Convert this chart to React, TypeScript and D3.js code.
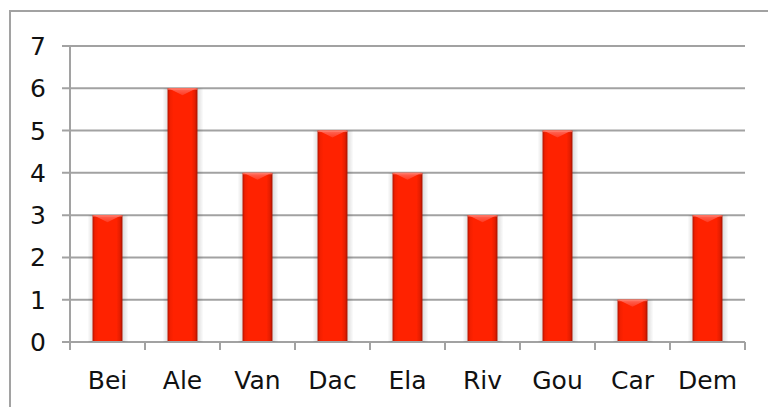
import React from "react";
import * as d3 from "d3";

const categories = ["Bei", "Ale", "Van", "Dac", "Ela", "Riv", "Gou", "Car", "Dem"];
const values = [3, 6, 4, 5, 4, 3, 5, 1, 3];
const yTicks = [0, 1, 2, 3, 4, 5, 6, 7];

const W = 768;
const H = 407;
const left = 70;
const right = 745;
const top = 46;
const bottom = 342;

export default function App() {
  const x = d3
    .scaleBand<string>()
    .domain(categories)
    .range([left, right])
    .paddingInner(0.6)
    .paddingOuter(0.3);
  const step = (right - left) / categories.length;
  const y = d3.scaleLinear().domain([0, 7]).range([bottom, top]);
  const font = "'DejaVu Sans', Verdana, sans-serif";
  const grid = "#a2a2a2";
  const bw = x.bandwidth();
  const bevel = 7;

  return (
    <svg
      width={W}
      height={H}
      style={{ position: "absolute", left: 0, top: 0, background: "#fff" }}
    >
      <defs>
        <linearGradient id="barG" x1="0" x2="1" y1="0" y2="0">
          <stop offset="0" stopColor="#b01300" />
          <stop offset="0.08" stopColor="#f21f00" />
          <stop offset="0.2" stopColor="#ff2200" />
          <stop offset="0.8" stopColor="#ff2200" />
          <stop offset="0.92" stopColor="#e41d00" />
          <stop offset="1" stopColor="#a01100" />
        </linearGradient>
        <linearGradient id="bevG" x1="0" x2="0" y1="0" y2="1">
          <stop offset="0" stopColor="#ff6a5a" />
          <stop offset="1" stopColor="#ff3a22" />
        </linearGradient>
        <linearGradient id="shL" x1="1" x2="0" y1="0" y2="0">
          <stop offset="0" stopColor="#000" stopOpacity="0.12" />
          <stop offset="1" stopColor="#000" stopOpacity="0" />
        </linearGradient>
        <linearGradient id="shR" x1="0" x2="1" y1="0" y2="0">
          <stop offset="0" stopColor="#000" stopOpacity="0.14" />
          <stop offset="1" stopColor="#000" stopOpacity="0" />
        </linearGradient>
      </defs>
      <rect x={10} y={11} width={W + 10} height={H + 10} fill="#fff" stroke={grid} strokeWidth={2} />
      {yTicks.map((t) => (
        <g key={t}>
          <line x1={62} x2={right} y1={y(t)} y2={y(t)} stroke={grid} strokeWidth={2} />
          <text
            x={46}
            y={y(t)}
            dy="0.36em"
            textAnchor="end"
            fontFamily={font}
            fontSize={25}
            fill="#111"
          >
            {t}
          </text>
        </g>
      ))}
      <line x1={left} x2={left} y1={top} y2={bottom} stroke={grid} strokeWidth={2} />
      {d3.range(categories.length + 1).map((i) => (
        <line
          key={i}
          x1={left + i * step}
          x2={left + i * step}
          y1={bottom}
          y2={bottom + 8}
          stroke={grid}
          strokeWidth={2}
        />
      ))}
      {categories.map((c, i) => {
        const bx = x(c)!;
        const by = y(values[i]);
        const h = bottom - by;
        return (
          <g key={c}>
            <rect x={bx - 5} y={by} width={5} height={h} fill="url(#shL)" />
            <rect x={bx + bw} y={by} width={6} height={h} fill="url(#shR)" />
            <rect x={bx} y={by} width={bw} height={h - 1} fill="url(#barG)" />
            <path
              d={`M${bx + 1},${by} L${bx + bw - 1},${by} L${bx + bw / 2},${by + bevel} Z`}
              fill="url(#bevG)"
            />
            <rect x={bx} y={by} width={bw} height={1.5} fill="#ff8070" opacity={0.7} />
            <text
              x={bx + bw / 2}
              y={389}
              textAnchor="middle"
              fontFamily={font}
              fontSize={25}
              fill="#111"
            >
              {c}
            </text>
          </g>
        );
      })}
    </svg>
  );
}
